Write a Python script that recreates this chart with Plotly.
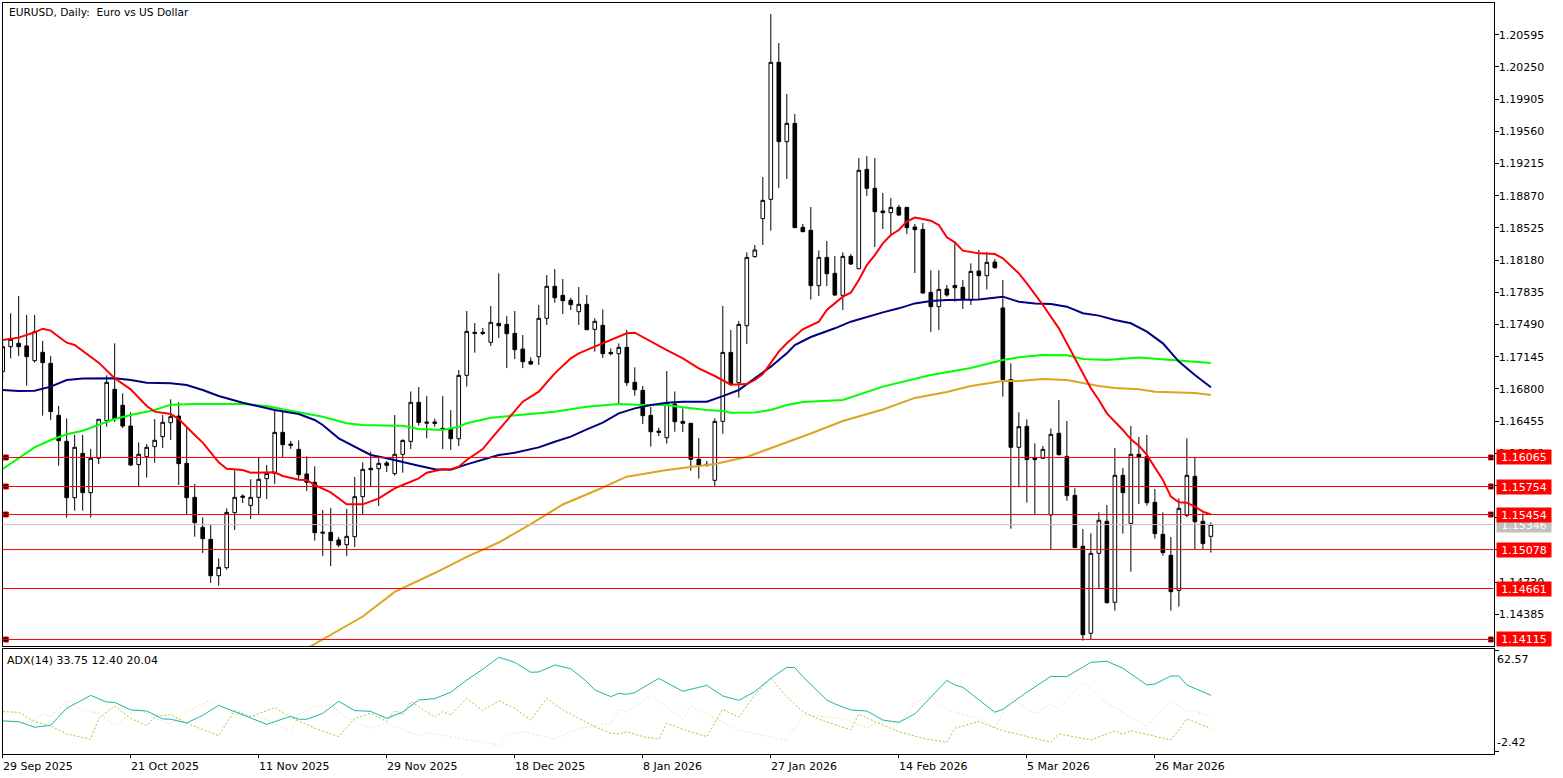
"""EURUSD daily chart with moving averages, price levels and an ADX pane."""
import plotly.graph_objects as go

# width, height of the terminal window in pixels
W, H = 1563, 778
FONT = "DejaVu Sans"

opens = [
    1.16985, 1.17252, 1.17288, 1.17260, 1.17102, 1.17192, 1.17074, 1.16517, 1.16238, 1.15634,
    1.16109, 1.15688, 1.16056, 1.16459, 1.16795, 1.16624, 1.16402, 1.15988, 1.16074, 1.16181,
    1.16288, 1.16438, 1.16509, 1.16002, 1.15638, 1.15316, 1.15188, 1.14798, 1.14884, 1.15474,
    1.15652, 1.15552, 1.15638, 1.15838, 1.15895, 1.16334, 1.16209, 1.16152, 1.15888, 1.15799,
    1.15266, 1.15263, 1.15181, 1.15131, 1.15216, 1.15645, 1.15949, 1.15945, 1.16006, 1.15892,
    1.16098, 1.16238, 1.16656, 1.16445, 1.16445, 1.16377, 1.16366, 1.16266, 1.16945, 1.17406,
    1.17406, 1.17299, 1.17502, 1.17491, 1.17395, 1.17227, 1.17095, 1.17145, 1.17556, 1.17899,
    1.17802, 1.17749, 1.17627, 1.17706, 1.17438, 1.17481, 1.17191, 1.17177, 1.17245, 1.16870,
    1.16784, 1.16516, 1.16348, 1.16277, 1.16638, 1.16452, 1.16431, 1.16045, 1.15991, 1.15820,
    1.16452, 1.17191, 1.16866, 1.17477, 1.18217, 1.18624, 1.18831, 1.20299, 1.19449, 1.19645,
    1.18531, 1.18499, 1.17906, 1.18209, 1.18038, 1.17802, 1.18220, 1.18088, 1.19152, 1.18949,
    1.18706, 1.18688, 1.18745, 1.18745, 1.18534, 1.18509, 1.17834, 1.17681, 1.17870, 1.17909,
    1.17888, 1.17752, 1.18063, 1.18013, 1.18159, 1.17667, 1.16899, 1.16174, 1.16399, 1.16060,
    1.16056, 1.15449, 1.16324, 1.16077, 1.15659, 1.15113, 1.14181, 1.15038, 1.15381, 1.14513,
    1.15874, 1.15359, 1.16099, 1.16074, 1.15585, 1.15242, 1.15017, 1.14641, 1.15445, 1.15863,
    1.15381, 1.15220,
]
highs = [
    1.17324, 1.17610, 1.17795, 1.17592, 1.17592, 1.17313, 1.17152, 1.16617, 1.16484, 1.16306,
    1.16306, 1.16156, 1.16474, 1.16945, 1.17288, 1.16752, 1.16549, 1.16227, 1.16209, 1.16477,
    1.16520, 1.16688, 1.16659, 1.16395, 1.15781, 1.15424, 1.15341, 1.14984, 1.15520, 1.15924,
    1.15670, 1.15831, 1.16063, 1.15984, 1.16581, 1.16556, 1.16242, 1.16249, 1.16077, 1.15970,
    1.15502, 1.15524, 1.15213, 1.15513, 1.15856, 1.16013, 1.16127, 1.16070, 1.16027, 1.16520,
    1.16259, 1.16773, 1.16820, 1.16723, 1.16481, 1.16723, 1.16573, 1.17002, 1.17634, 1.17506,
    1.17452, 1.17688, 1.18038, 1.17581, 1.17634, 1.17377, 1.17138, 1.17699, 1.18020, 1.18084,
    1.17977, 1.17777, 1.17892, 1.17806, 1.17556, 1.17652, 1.17234, 1.17288, 1.17431, 1.17031,
    1.16831, 1.16609, 1.16384, 1.16991, 1.16773, 1.16591, 1.16434, 1.16273, 1.16027, 1.16484,
    1.17688, 1.17431, 1.17527, 1.18263, 1.18342, 1.19070, 1.20817, 1.20506, 1.19960, 1.19745,
    1.18567, 1.18749, 1.18284, 1.18384, 1.18224, 1.18263, 1.18245, 1.19274, 1.19295, 1.19274,
    1.18899, 1.18845, 1.18770, 1.18745, 1.18567, 1.18577, 1.18070, 1.18070, 1.17913, 1.18359,
    1.17967, 1.18145, 1.18288, 1.18263, 1.18192, 1.17967, 1.17074, 1.16549, 1.16474, 1.16217,
    1.16188, 1.16377, 1.16681, 1.16456, 1.15735, 1.15299, 1.15252, 1.15477, 1.15556, 1.16167,
    1.15952, 1.16402, 1.16285, 1.16306, 1.15727, 1.15477, 1.15213, 1.15627, 1.16270, 1.16063,
    1.15467, 1.15370,
]
lows = [
    1.16895, 1.17127, 1.17152, 1.16835, 1.17081, 1.16513, 1.16467, 1.15977, 1.15420, 1.15495,
    1.15495, 1.15420, 1.15995, 1.16395, 1.16445, 1.16381, 1.15974, 1.15759, 1.15849, 1.16009,
    1.16167, 1.16252, 1.15770, 1.15456, 1.15216, 1.15041, 1.14720, 1.14691, 1.14863, 1.15288,
    1.15577, 1.15406, 1.15456, 1.15620, 1.15781, 1.16067, 1.16156, 1.15831, 1.15706, 1.15174,
    1.15009, 1.14902, 1.15106, 1.15009, 1.15106, 1.15456, 1.15752, 1.15545, 1.15909, 1.15870,
    1.15902, 1.16155, 1.16406, 1.16270, 1.16395, 1.16155, 1.16145, 1.16188, 1.16824, 1.17188,
    1.17377, 1.17259, 1.17345, 1.17023, 1.17120, 1.17023, 1.17056, 1.17056, 1.17484, 1.17724,
    1.17602, 1.17645, 1.17484, 1.17431, 1.17199, 1.17131, 1.17159, 1.16638, 1.16831, 1.16727,
    1.16423, 1.16181, 1.16295, 1.16213, 1.16341, 1.16338, 1.15923, 1.15838, 1.15966, 1.15759,
    1.16320, 1.16834, 1.16706, 1.17281, 1.18206, 1.18342, 1.18495, 1.18952, 1.19049, 1.18524,
    1.18481, 1.17756, 1.17795, 1.17902, 1.17795, 1.17645, 1.18127, 1.18081, 1.18867, 1.18320,
    1.18513, 1.18459, 1.18652, 1.18459, 1.18041, 1.17820, 1.17409, 1.17431, 1.17788, 1.17734,
    1.17656, 1.17699, 1.17752, 1.17866, 1.18088, 1.16717, 1.15302, 1.15745, 1.15581, 1.15459,
    1.16049, 1.15074, 1.16085, 1.15602, 1.15095, 1.14102, 1.14116, 1.14666, 1.14499, 1.14424,
    1.15249, 1.14841, 1.15567, 1.15549, 1.15195, 1.15013, 1.14424, 1.14466, 1.15424, 1.15084,
    1.15084, 1.15045,
]
closes = [
    1.17252, 1.17331, 1.17252, 1.17145, 1.17413, 1.17081, 1.16556, 1.16245, 1.15634, 1.16174,
    1.15688, 1.16056, 1.16474, 1.16870, 1.16481, 1.16402, 1.15984, 1.16099, 1.16174, 1.16249,
    1.16442, 1.16502, 1.15999, 1.15634, 1.15366, 1.15195, 1.14798, 1.14888, 1.15477, 1.15638,
    1.15638, 1.15638, 1.15831, 1.15895, 1.16334, 1.16202, 1.16195, 1.15881, 1.15799, 1.15259,
    1.15256, 1.15174, 1.15127, 1.15220, 1.15645, 1.15938, 1.15934, 1.16002, 1.15981, 1.16099,
    1.16248, 1.16656, 1.16441, 1.16434, 1.16431, 1.16370, 1.16266, 1.16945, 1.17416, 1.17395,
    1.17395, 1.17513, 1.17477, 1.17391, 1.17220, 1.17091, 1.17066, 1.17556, 1.17899, 1.17777,
    1.17745, 1.17702, 1.17706, 1.17434, 1.17524, 1.17177, 1.17177, 1.17245, 1.16866, 1.16791,
    1.16513, 1.16341, 1.16334, 1.16645, 1.16448, 1.16431, 1.16045, 1.15984, 1.15981, 1.16452,
    1.17191, 1.16848, 1.17491, 1.18209, 1.18288, 1.18820, 1.20299, 1.19449, 1.19645, 1.18527,
    1.18484, 1.17906, 1.18209, 1.18034, 1.17806, 1.18220, 1.18138, 1.19142, 1.18949, 1.18699,
    1.18688, 1.18745, 1.18663, 1.18527, 1.18506, 1.17827, 1.17681, 1.17866, 1.17806, 1.17884,
    1.17759, 1.18059, 1.18013, 1.18156, 1.18099, 1.16899, 1.16174, 1.16395, 1.16042, 1.16042,
    1.16152, 1.16313, 1.16095, 1.15656, 1.15099, 1.14166, 1.15038, 1.15392, 1.14509, 1.15874,
    1.15688, 1.16099, 1.16070, 1.15581, 1.15249, 1.15045, 1.14627, 1.15520, 1.15874, 1.15377,
    1.15142, 1.15346,
]

red_bars = [0, 2, 4, 5, 6, 8, 9, 11, 12, 14, 16, 18, 19, 21, 22, 24, 25, 27, 28, 30, 31, 34, 35, 37, 38,
            39, 41, 43, 45, 47, 49, 50, 52, 53, 55, 56, 57, 58, 60, 61, 63, 65, 67, 69, 71, 72, 74, 76, 78,
            79, 81, 83, 85, 87, 89, 90, 91, 93, 94, 95, 96, 97, 98, 99, 100, 102, 103, 105, 106, 107, 108,
            109, 110, 111, 112, 113, 114, 115, 116, 117, 118, 119, 120, 122, 124, 125, 127, 128, 130, 132,
            133, 134, 136, 137, 138, 140, 141, 142, 143, 145, 146, 147, 148, 149, 150, 151]
red_ma = [1.17324, 1.17349, 1.17406, 1.17445, 1.17424, 1.17295, 1.17270, 1.17138, 1.17081, 1.16913,
          1.16795, 1.16617, 1.16556, 1.16531, 1.16477, 1.16306, 1.16224, 1.16013, 1.15945, 1.15931,
          1.15902, 1.15906, 1.15867, 1.15827, 1.15824, 1.15770, 1.15691, 1.15563, 1.15563, 1.15627,
          1.15734, 1.15770, 1.15841, 1.15902, 1.15938, 1.15938, 1.15966, 1.16038, 1.16155, 1.16259,
          1.16466, 1.16663, 1.16770, 1.16966, 1.17127, 1.17181, 1.17252, 1.17324, 1.17395, 1.17402,
          1.17306, 1.17216, 1.17127, 1.17020, 1.16938, 1.16888, 1.16845, 1.16852, 1.16895, 1.16959,
          1.17073, 1.17199, 1.17288, 1.17359, 1.17438, 1.17520, 1.17645, 1.17788, 1.17831, 1.17967,
          1.18127, 1.18234, 1.18359, 1.18449, 1.18502, 1.18592, 1.18635, 1.18620, 1.18602, 1.18556,
          1.18424, 1.18370, 1.18281, 1.18252, 1.18245, 1.18199, 1.18038, 1.17931, 1.17699, 1.17449,
          1.17288, 1.17138, 1.16806, 1.16681, 1.16538, 1.16360, 1.16260, 1.16192, 1.16092, 1.15824,
          1.15645, 1.15585, 1.15581, 1.15538, 1.15484, 1.15454]

navy_bars = [0, 2, 4, 6, 8, 10, 14, 16, 18, 21, 23, 25, 27, 30, 34, 37, 39, 40, 42, 44, 46, 48, 49, 50, 52,
             54, 56, 58, 60, 62, 64, 67, 69, 71, 73, 75, 77, 79, 81, 83, 85, 88, 90, 92, 94, 96, 98, 99, 101,
             104, 106, 108, 110, 112, 114, 116, 118, 122, 124, 125, 127, 129, 131, 133, 135, 137, 139, 141,
             143, 145, 147, 149, 151]
navy_ma = [1.16788, 1.16777, 1.16781, 1.16824, 1.16895, 1.16910, 1.16913, 1.16895, 1.16867, 1.16859,
           1.16842, 1.16788, 1.16724, 1.16652, 1.16574, 1.16531, 1.16467, 1.16413, 1.16270, 1.16181,
           1.16092, 1.16056, 1.16038, 1.16013, 1.15977, 1.15938, 1.15934, 1.15991, 1.16038, 1.16091,
           1.16116, 1.16173, 1.16234, 1.16288, 1.16366, 1.16438, 1.16538, 1.16591, 1.16627, 1.16652,
           1.16663, 1.16663, 1.16723, 1.16788, 1.16913, 1.17038, 1.17181, 1.17270, 1.17356, 1.17449,
           1.17520, 1.17574, 1.17620, 1.17663, 1.17716, 1.17741, 1.17752, 1.17759, 1.17781, 1.17788,
           1.17734, 1.17716, 1.17709, 1.17681, 1.17610, 1.17585, 1.17538, 1.17503, 1.17413, 1.17288,
           1.17092, 1.16949, 1.16817]

green_bars = [0, 2, 4, 6, 8, 10, 12, 14, 16, 19, 21, 24, 30, 33, 35, 38, 40, 43, 45, 49, 50, 52, 55, 57, 58,
              61, 65, 69, 73, 77, 80, 83, 85, 88, 90, 91, 94, 96, 98, 99, 100, 105, 110, 116, 121, 125, 127,
              130, 133, 135, 138, 142, 144, 146, 149, 151]
green_ma = [1.15942, 1.16056, 1.16174, 1.16252, 1.16313, 1.16352, 1.16413, 1.16477, 1.16520, 1.16574,
            1.16631, 1.16638, 1.16638, 1.16617, 1.16581, 1.16538, 1.16502, 1.16431, 1.16413, 1.16406,
            1.16406, 1.16370, 1.16359, 1.16395, 1.16431, 1.16491, 1.16520, 1.16556, 1.16609, 1.16638,
            1.16627, 1.16627, 1.16602, 1.16573, 1.16563, 1.16545, 1.16548, 1.16573, 1.16627, 1.16645,
            1.16660, 1.16681, 1.16824, 1.16949, 1.17024, 1.17110, 1.17138, 1.17163, 1.17160, 1.17120,
            1.17110, 1.17135, 1.17120, 1.17110, 1.17092, 1.17078]

gold_bars = [38, 41, 45, 49, 54, 58, 62, 66, 70, 74, 78, 83, 89, 93, 97, 101, 105, 110, 114, 118, 121, 125,
             127, 130, 133, 135, 137, 139, 142, 144, 147, 149, 151]
gold_ma = [1.14018, 1.14163, 1.14361, 1.14624, 1.14827, 1.14999, 1.15154, 1.15352, 1.15561, 1.15706,
           1.15859, 1.15931, 1.15995, 1.16070, 1.16194, 1.16322, 1.16456, 1.16579, 1.16703, 1.16767,
           1.16831, 1.16885, 1.16885, 1.16906, 1.16895, 1.16860, 1.16831, 1.16810, 1.16795, 1.16770,
           1.16760, 1.16756, 1.16735]

adx_bars = [0, 2, 4, 6, 8, 11, 13, 14, 16, 18, 20, 21, 23, 25, 27, 29, 31, 33, 36, 37, 38, 40, 42, 44, 46,
            48, 50, 52, 54, 56, 58, 60, 62, 64, 66, 67, 69, 71, 73, 74, 76, 77, 78, 79, 82, 85, 88, 90, 92,
            94, 96, 98, 99, 100, 103, 104, 106, 108, 110, 112, 114, 118, 119, 120, 124, 125, 128, 131, 133,
            136, 138, 140, 143, 144, 146, 147, 148, 151]
adx_main = [17.2, 16.8, 13.1, 14.4, 25.4, 33.7, 29.4, 29.2, 24.3, 23.6, 18.5, 18.3, 15.9, 20.8, 27.3, 23.2,
            18.7, 15.0, 20.2, 18.3, 18.3, 22.1, 29.9, 23.9, 23.4, 18.9, 23.0, 30.7, 31.6, 35.7, 43.6, 50.5,
            58.3, 55.0, 48.6, 48.8, 53.3, 50.9, 42.6, 37.2, 32.9, 35.0, 34.4, 35.5, 44.7, 36.3, 40.2, 33.3,
            30.5, 36.1, 44.7, 51.8, 51.6, 45.8, 30.7, 28.2, 24.3, 23.6, 17.8, 16.3, 21.7, 43.4, 40.4, 38.9,
            22.8, 24.7, 35.7, 46.0, 45.8, 55.0, 55.7, 51.2, 40.4, 41.0, 46.2, 46.2, 40.4, 33.75]

plus_bars = [0, 2, 4, 6, 8, 11, 12, 14, 16, 18, 19, 21, 23, 27, 29, 31, 34, 36, 39, 42, 44, 46, 48, 49, 50,
             51, 52, 54, 55, 56, 58, 60, 62, 64, 66, 68, 70, 74, 76, 77, 78, 80, 82, 83, 85, 88, 90, 92, 94,
             96, 98, 100, 102, 106, 107, 109, 112, 115, 118, 119, 122, 125, 129, 131, 132, 136, 139, 140,
             141, 146, 148, 151]
plus_di = [23.2, 22.8, 16.8, 14.0, 8.8, 5.4, 18.9, 26.9, 18.9, 14.2, 20.0, 21.3, 15.7, 7.7, 23.9, 20.0, 25.8,
           19.6, 12.5, 7.1, 18.9, 22.1, 16.8, 23.9, 21.1, 29.7, 26.4, 19.6, 23.2, 21.1, 31.8, 23.9, 30.3,
           25.4, 17.8, 31.8, 24.3, 13.5, 9.2, 8.8, 10.3, 7.1, 5.4, 15.7, 11.8, 7.1, 24.7, 19.6, 34.0, 44.7,
           32.9, 23.2, 18.3, 11.4, 21.7, 16.8, 10.3, 6.0, 3.4, 12.5, 16.8, 10.9, 6.0, 3.4, 8.8, 4.9, 10.9,
           8.6, 10.9, 4.9, 18.5, 12.40]

minus_bars = [0, 2, 4, 5, 6, 8, 10, 12, 14, 17, 19, 21, 23, 26, 27, 29, 32, 34, 36, 37, 39, 41, 43, 46, 48,
              52, 53, 57, 62, 63, 65, 69, 72, 76, 77, 78, 81, 85, 86, 89, 92, 98, 100, 105, 108, 110, 112,
              114, 116, 118, 122, 124, 126, 129, 131, 132, 135, 138, 143, 146, 148, 149, 151]
minus_di = [17.8, 15.3, 17.8, 22.1, 20.0, 30.3, 24.3, 22.1, 14.6, 25.4, 18.9, 15.3, 23.2, 30.7, 27.5, 21.1,
            20.0, 15.7, 10.3, 21.1, 26.4, 27.5, 18.9, 12.5, 15.7, 7.5, 9.7, 6.0, 1.7, 8.1, 10.3, 5.6, 12.5,
            15.7, 24.7, 22.6, 33.9, 18.3, 26.9, 18.9, 11.4, 4.3, 21.1, 18.9, 12.5, 17.8, 14.6, 29.0, 33.3,
            24.3, 18.9, 12.5, 31.8, 22.1, 27.9, 25.4, 42.1, 28.6, 13.5, 29.7, 23.6, 23.6, 20.04]

price_ticks = [1.20595, 1.20250, 1.19905, 1.19560, 1.19215, 1.18870, 1.18525, 1.18180, 1.17835, 1.17490,
               1.17145, 1.16800, 1.16455, 1.16110, 1.15765, 1.15420, 1.15075, 1.14730, 1.14385]
levels = [1.16065, 1.15754, 1.15454, 1.15078, 1.14661, 1.14115]
handled_levels = [1.16065, 1.15754, 1.15454, 1.14115]  # these carry the small drag squares
last_price = 1.15346
adx_ticks = [62.57, -2.42]
date_bars = [0, 16, 32, 48, 64, 80, 96, 112, 128, 144]
date_labels = ["29 Sep 2025", "21 Oct 2025", "11 Nov 2025", "29 Nov 2025", "18 Dec 2025",
               "8 Jan 2026", "27 Jan 2026", "14 Feb 2026", "5 Mar 2026", "26 Mar 2026"]

bars = list(range(len(closes)))

fig = go.Figure()

fig.add_trace(go.Candlestick(
    x=bars, open=opens, high=highs, low=lows, close=closes,
    increasing=dict(line=dict(color="black", width=1), fillcolor="white"),
    decreasing=dict(line=dict(color="black", width=1), fillcolor="black"),
    xaxis="x", yaxis="y", hoverinfo="skip",
))

ma_lines = [
    (gold_bars, gold_ma, "#DAA520"),
    (green_bars, green_ma, "#00FF00"),
    (navy_bars, navy_ma, "#000080"),
    (red_bars, red_ma, "#FF0000"),
]
for ma_x, ma_y, colour in ma_lines:
    fig.add_trace(go.Scatter(x=ma_x, y=ma_y, mode="lines", line=dict(color=colour, width=2),
                             xaxis="x", yaxis="y", hoverinfo="skip"))

# drag squares on both ends of the drawn levels
for level in handled_levels:
    fig.add_trace(go.Scatter(
        x=[0.4, 186], y=[level, level], mode="markers",
        marker=dict(symbol="square", size=5, color="black", line=dict(color="red", width=1)),
        xaxis="x", yaxis="y", hoverinfo="skip",
    ))

fig.add_trace(go.Scatter(x=minus_bars, y=minus_di, mode="lines", line=dict(color="#F5DEB3", width=1, dash="2px,2px"),
                         xaxis="x2", yaxis="y2", hoverinfo="skip"))
fig.add_trace(go.Scatter(x=plus_bars, y=plus_di, mode="lines", line=dict(color="#9ACD32", width=1, dash="2px,2px"),
                         xaxis="x2", yaxis="y2", hoverinfo="skip"))
fig.add_trace(go.Scatter(x=adx_bars, y=adx_main, mode="lines", line=dict(color="#20B2AA", width=1),
                         xaxis="x2", yaxis="y2", hoverinfo="skip"))

fig.add_shape(type="line", xref="x domain", yref="y", x0=0, x1=1, y0=last_price, y1=last_price,
              line=dict(color="#C0C0C0", width=1))
for level in levels:
    fig.add_shape(type="line", xref="x domain", yref="y", x0=0, x1=1, y0=level, y1=level,
                  line=dict(color="#FF0000", width=1))


def badge(value, colour):
    fig.add_annotation(
        xref="paper", yref="y", x=1496 / W, y=value, xanchor="left", yanchor="middle",
        text=f"{value:.5f}", showarrow=False, bgcolor=colour, width=54, height=14, borderpad=0,
        font=dict(family=FONT, size=11, color="white"), align="center",
    )


badge(last_price, "#C0C0C0")
for level in levels:
    badge(level, "#FF0000")

fig.add_annotation(xref="paper", yref="paper", x=7 / W, y=1 - 12 / H, xanchor="left", yanchor="middle",
                   text="EURUSD, Daily:  Euro vs US Dollar", showarrow=False,
                   font=dict(family=FONT, size=10.6, color="black"))
fig.add_annotation(xref="paper", yref="paper", x=5 / W, y=1 - 660 / H, xanchor="left", yanchor="middle",
                   text="ADX(14) 33.75 12.40 20.04", showarrow=False,
                   font=dict(family=FONT, size=11, color="black"))

for bar, label in zip(date_bars, date_labels):
    fig.add_annotation(xref="x2", yref="paper", x=bar, y=1 - 766 / H, xanchor="left", yanchor="middle",
                       text=label, showarrow=False, xshift=-2,
                       font=dict(family=FONT, size=11, color="black"))

fig.add_annotation(xref="paper", yref="y2", x=1495 / W, y=adx_ticks[0], xanchor="left", yanchor="top",
                   text="62.57", showarrow=False, font=dict(family=FONT, size=11, color="black"))
fig.add_annotation(xref="paper", yref="y2", x=1495 / W, y=adx_ticks[1], xanchor="left", yanchor="bottom",
                   text="-2.42", showarrow=False, font=dict(family=FONT, size=11, color="black"))

x_left, x_right = 2.5 / W, 1493.5 / W
bar_range = [-0.02, 186.32]
fig.update_layout(
    width=W, height=H, margin=dict(l=0, r=0, t=0, b=0),
    paper_bgcolor="white", plot_bgcolor="white", showlegend=False, boxgap=0.35,
    font=dict(family=FONT, size=11, color="black"),
    xaxis=dict(domain=[x_left, x_right], range=bar_range, anchor="y", showgrid=False, zeroline=False,
               rangeslider=dict(visible=False), showticklabels=False, ticks="",
               showline=True, linecolor="black", linewidth=1, mirror=True),
    yaxis=dict(domain=[1 - 646 / H, 1 - 2.5 / H], range=[1.14045, 1.20940], side="right", anchor="x",
               showgrid=False, zeroline=False, tickmode="array", tickvals=price_ticks,
               ticktext=[f"{t:.5f}" for t in price_ticks], ticks="outside", ticklen=4,
               ticklabelstandoff=-2, tickcolor="black", tickfont=dict(family=FONT, size=11),
               showline=True, linecolor="black", linewidth=1, mirror=True),
    xaxis2=dict(domain=[x_left, x_right], range=bar_range, anchor="y2", showgrid=False, zeroline=False,
                tickmode="array", tickvals=date_bars, ticktext=[""] * len(date_bars), ticks="outside", ticklen=3,
                tickcolor="black", showline=True, linecolor="black", linewidth=1, mirror=True),
    yaxis2=dict(domain=[1 - 754 / H, 1 - 649 / H], range=[-4.12, 63.62], side="right", anchor="x2",
                showgrid=False, zeroline=False, tickmode="array", tickvals=adx_ticks,
                ticktext=["", ""], ticks="outside", ticklen=4, tickcolor="black",
                showline=True, linecolor="black", linewidth=1, mirror=True),
)

fig.write_html("out.html", config=dict(displayModeBar=False),
               post_script="document.body.style.margin='0';")
